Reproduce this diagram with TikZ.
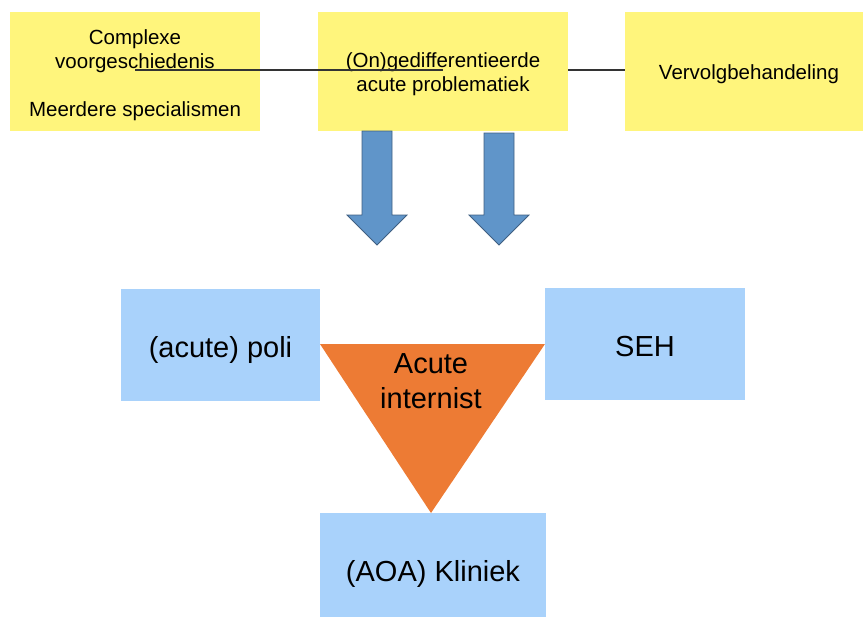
\documentclass[tikz,border=0pt]{standalone}
\usepackage{fontspec}
\setmainfont{Liberation Sans}
\definecolor{geel}{HTML}{FFF57C}
\definecolor{lichtblauw}{HTML}{A9D2FB}
\definecolor{oranje}{HTML}{ED7B34}
\definecolor{pijlblauw}{HTML}{6095C9}
\definecolor{pijlrand}{HTML}{3F5F82}
\begin{document}
\begin{tikzpicture}[x=1pt,y=-1pt,
    geelvak/.style={fill=geel,inner sep=0pt,align=center,font=\fontsize{20.5}{24}\selectfont},
    blauwvak/.style={fill=lichtblauw,inner sep=0pt},
    groot/.style={align=center,font=\fontsize{29}{34}\selectfont}]
	    \useasboundingbox (0,0) rectangle (863,618);
	    \node[geelvak,minimum width=250pt,minimum height=119pt] (voor) at (135,71.5) {};
	    \node[geelvak] (voortekst) at (135,75) {Complexe\\voorgeschiedenis\\[24pt]Meerdere specialismen};
	    \node[geelvak,minimum width=250pt,minimum height=119pt] (acuut) at (443,71.5) {};
	    \node[geelvak] (acuuttekst) at (443,74) {(On)gedifferentieerde\\acute problematiek};
	    \node[geelvak,minimum width=238pt,minimum height=119pt] (vervolg) at (744,71.5) {};
	    \node[geelvak] (vervolgtekst) at (749,74) {Vervolgbehandeling};
	    \coordinate (lijnbegin) at (135,70);
	    \coordinate (lijneind) at (443,70);
	    \draw[color=black!80,line width=2pt] (lijnbegin) -- (lijneind);
	    \draw[color=black!80,line width=2pt] (acuut.east |- lijneind) -- (vervolg.west |- lijneind);
	    \filldraw[fill=pijlblauw,draw=pijlrand,line width=0.8pt] (362,131) -- (392,131) -- (392,215) -- (407,215) -- (377,245) -- (347,215) -- (362,215) -- cycle;
	    \filldraw[fill=pijlblauw,draw=pijlrand,line width=0.8pt] (484,133) -- (514,133) -- (514,215) -- (529,215) -- (499,245) -- (469,215) -- (484,215) -- cycle;
	    \node[blauwvak,minimum width=199pt,minimum height=112pt] (poli) at (220.5,345) {};
	    \node[groot] (politekst) at ([yshift=-5pt]poli.center) {(acute) poli};
	    \node[blauwvak,minimum width=200pt,minimum height=112pt] (seh) at (645,344) {};
	    \node[groot] (sehtekst) at ([yshift=-3pt]seh.center) {SEH};
	    \node[blauwvak,minimum width=226pt,minimum height=104pt] (kliniek) at (433,565) {};
	    \node[groot] (kliniektekst) at ([yshift=-9pt]kliniek.center) {(AOA) Kliniek};
	    \fill[color=oranje] (320,344) -- (545,344) -- (431,513) -- cycle;
	    \node[align=center,font=\fontsize{29}{35}\selectfont] (internist) at (431,381) {Acute\\internist};
	    \end{tikzpicture}
\end{document}
